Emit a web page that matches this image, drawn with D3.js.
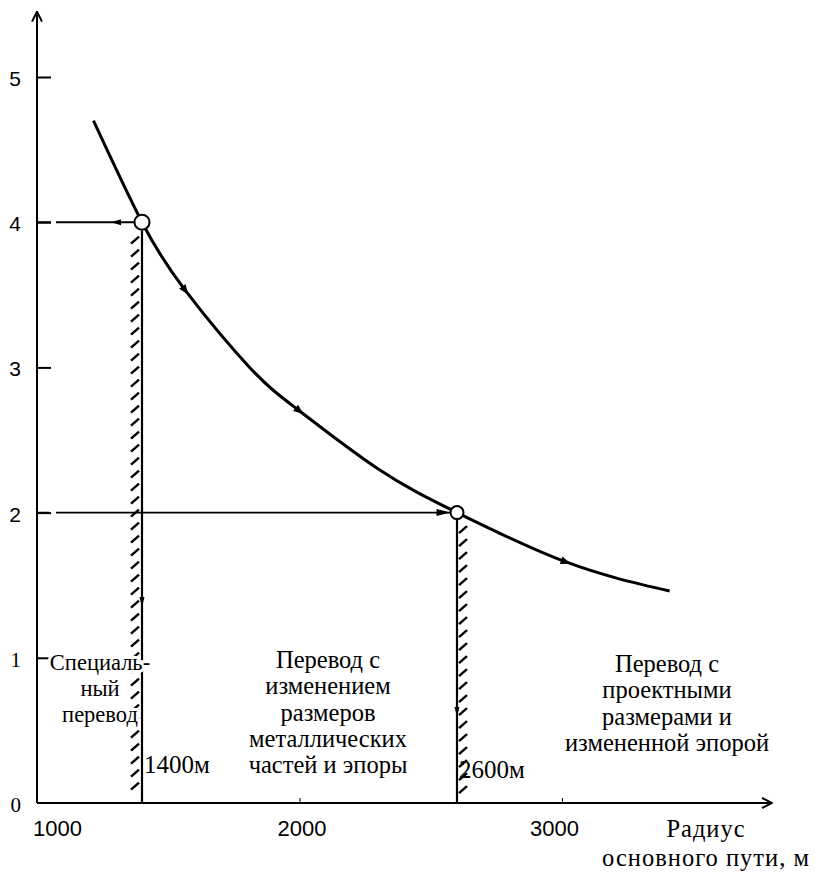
<!DOCTYPE html>
<html>
<head>
<meta charset="utf-8">
<script src="https://cdn.jsdelivr.net/npm/d3@7"></script>
<style>
  body { margin: 0; background: #fff; }
  .tick text { font-family: "Liberation Sans", Arial, sans-serif; font-size: 21px; fill: #000; }
  .note { font-family: "Liberation Serif", "Times New Roman", serif; font-size: 25px; fill: #000; }
</style>
</head>
<body>
<svg id="chart" width="818" height="879"></svg>
<script>
// радиус основного пути (м) и значение по оси ординат
const curveR = [1215, 1400, 1565, 1810, 2000, 2300, 2600, 3015, 3410];
const curveK = [4.70, 4.00, 3.53, 3.00, 2.70, 2.30, 2.00, 1.66, 1.46];
const arrowR = [1565, 2000, 3015];          // стрелки на кривой
const bounds = [1400, 2600];                // границы зон
const boundK = [4, 2];
const boundLabels = ["1400м", "2600м"];
const xTicks = [1000, 2000, 3000];
const yTicks = [0, 1, 2, 3, 4, 5];
const zoneLeft = ["Специаль-", "ный", "перевод"];
const zoneMid = ["Перевод с", "изменением", "размеров", "металлических", "частей и эпоры"];
const zoneRight = ["Перевод с", "проектными", "размерами и", "измененной эпорой"];
const xTitle = ["Радиус", "основного пути, м"];

const svg = d3.select("#chart");

var x = d3.scaleLinear().domain([1000, 3000]).range([37, 562]);
var y = d3.scaleLinear().domain([0, 5]).range([803, 77]);

// axes
svg.append("g")
  .attr("transform", "translate(" + x(1000) + ",0)")
  .call(d3.axisLeft(y).tickValues(yTicks).tickSize(-14).tickPadding(16).tickFormat(d3.format("d")))
  .call(g => g.select(".domain").remove())
  .call(g => g.selectAll(".tick line").attr("stroke-width", 2))
  .call(g => g.selectAll(".tick").filter(d => d === 0).select("line").remove())
  .call(g => g.selectAll(".tick text").attr("dy", "0.4em")
    .filter(d => d <= 1).style("font-family", "Liberation Serif, serif"));

svg.append("g")
  .attr("transform", "translate(0," + y(0) + ")")
  .call(d3.axisBottom(x).tickValues(xTicks).tickSize(-5).tickPadding(17).tickFormat(d3.format("d")))
  .call(g => g.select(".domain").remove())
  .call(g => g.selectAll(".tick").filter(d => d === 1000).select("line").remove())
  .call(g => g.selectAll(".tick text").style("font-size", "22px")
    .attr("dx", d => d === 1000 ? 20 : (d === 3000 ? -8 : 2)));

const defs = svg.append("defs");
defs.append("marker").attr("id", "axArrow")
  .attr("viewBox", "0 0 12 12").attr("refX", 11).attr("refY", 6)
  .attr("markerWidth", 12).attr("markerHeight", 12).attr("markerUnits", "userSpaceOnUse")
  .attr("orient", "auto")
  .append("path").attr("d", "M1,1 L11,6 L1,11").attr("fill", "none")
  .attr("stroke", "#000").attr("stroke-width", 2);

svg.append("line")
  .attr("x1", x(1000)).attr("y1", y(0)).attr("x2", x(1000)).attr("y2", y(5.45))
  .attr("stroke", "#000").attr("stroke-width", 2).attr("marker-end", "url(#axArrow)");
svg.append("line")
  .attr("x1", x(1000)).attr("y1", y(0)).attr("x2", x(3800)).attr("y2", y(0))
  .attr("stroke", "#000").attr("stroke-width", 2).attr("marker-end", "url(#axArrow)");

// curve
const pts = curveR.map((r, i) => [x(r), y(curveK[i])]);
svg.append("path")
  .datum(pts)
  .attr("d", d3.line().curve(d3.curveNatural))
  .attr("fill", "none").attr("stroke", "#000").attr("stroke-width", 3);

function tri(cx, cy, ang, len, wid) {
  const c = Math.cos(ang), s = Math.sin(ang);
  const tip = [cx + c * len / 2, cy + s * len / 2];
  const bx = cx - c * len / 2, by = cy - s * len / 2;
  return "M" + tip + "L" + [bx - s * wid, by + c * wid] + "L" + [bx + s * wid, by - c * wid] + "Z";
}

arrowR.forEach(r => {
  const i = curveR.indexOf(r);
  const a = Math.atan2(pts[i + 1][1] - pts[i - 1][1], pts[i + 1][0] - pts[i - 1][0]);
  svg.append("path").attr("d", tri(pts[i][0], pts[i][1], a, 10, 4)).attr("fill", "#000");
});

// zone descriptions
function block(lines, cx, y0, step, size, halo, spacing) {
  const t = svg.append("text").attr("class", "note").attr("text-anchor", "middle")
    .style("font-size", size + "px");
  if (spacing) t.style("letter-spacing", spacing + "px");
  if (halo) t.attr("stroke", "#fff").attr("stroke-width", 6).attr("paint-order", "stroke");
  t.selectAll("tspan").data(lines).enter().append("tspan")
    .attr("x", cx).attr("y", (d, i) => y0 + i * step)
    .text(d => d);
}

// boundaries: horizontal lead lines, vertical lines, hatching
bounds.forEach((r, i) => {
  const cx = x(r), cy = y(boundK[i]);
  const rad = i === 0 ? 7.5 : 6.5;
  svg.append("line")
    .attr("x1", x(1000)).attr("y1", cy).attr("x2", cx - rad).attr("y2", cy)
    .attr("stroke", "#000").attr("stroke-width", i === 0 ? 2 : 1.6)
    .attr("stroke-dasharray", i === 0 ? "14,5,1000" : "12,7,1000");
  if (i === 0) {
    svg.append("path").attr("d", tri(cx - 26, cy, Math.PI, 10, 3)).attr("fill", "#000");
  } else {
    svg.append("path").attr("d", tri(cx - rad - 7, cy, 0, 14, 3.5)).attr("fill", "#000");
  }
  svg.append("line")
    .attr("x1", cx).attr("y1", cy + rad + 1).attr("x2", cx).attr("y2", y(0))
    .attr("stroke", "#000").attr("stroke-width", 2.2);
  svg.append("path").attr("d", tri(cx, i === 0 ? 602 : 712, Math.PI / 2, 10, 2.5)).attr("fill", "#000");

  const side = i === 0 ? -1 : 1;
  const hatch = d3.range(cy + rad + 14, y(0) - 2, 13);
  svg.append("g").selectAll("line").data(hatch).enter().append("line")
    .attr("x1", d => side < 0 ? cx - 11 : cx + 2)
    .attr("y1", d => d)
    .attr("x2", d => side < 0 ? cx - 3 : cx + 10)
    .attr("y2", d => d - 7)
    .attr("stroke", "#000").attr("stroke-width", 2.4);

  svg.append("circle").attr("cx", cx).attr("cy", cy).attr("r", rad)
    .attr("fill", "#fff").attr("stroke", "#000").attr("stroke-width", 2);

  svg.append("text").attr("class", "note")
    .attr("x", cx + 2).attr("y", i === 0 ? 773 : 778)
    .text(boundLabels[i]);
});

block(zoneLeft, 100, 670, 26, 22.5, true);
block(zoneMid, 328, 668, 26.3, 24.5, false);
block(zoneRight, 667, 672, 26.3, 24.5, false);
block(xTitle, 706, 837, 28.5, 24.5, false, 1);
</script>
</body>
</html>
